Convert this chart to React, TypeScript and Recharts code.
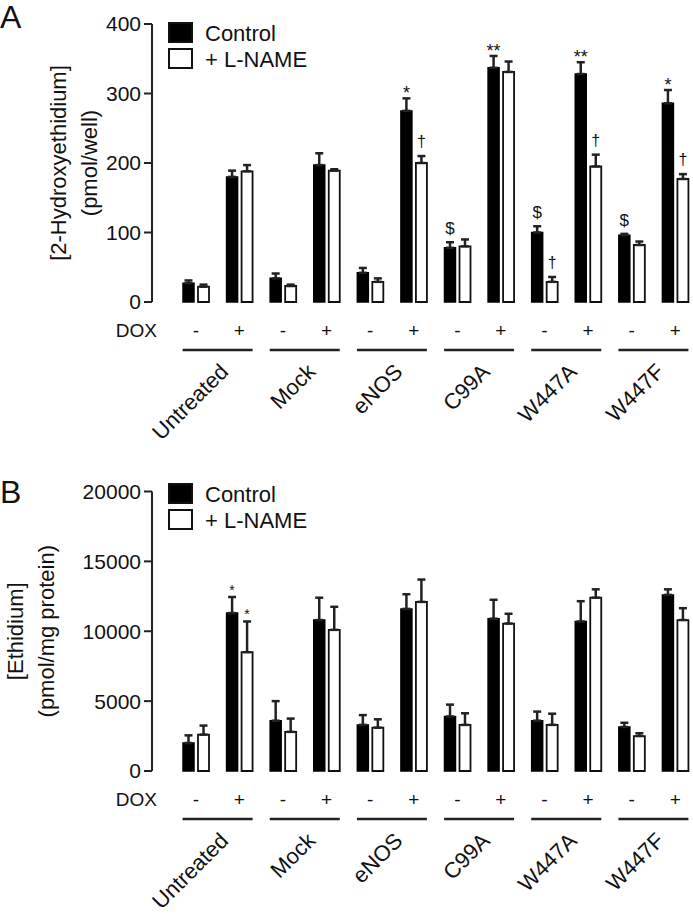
import React from "react";
import { BarChart, Bar, XAxis, YAxis, ErrorBar, LabelList, Legend, Label } from "recharts";

const FONT = "'Liberation Sans', Arial, Helvetica, sans-serif";
const INK = "#111";

const groups = ["Untreated", "Mock", "eNOS", "C99A", "W447A", "W447F"];
const doxLevels = ["-", "+"];
const seriesNames = ["Control", "+ L-NAME"];

// Panel A: 2-hydroxyethidium (pmol/well)
const ctrlA = [27, 180, 34, 197, 42, 275, 78, 337, 100, 328, 96, 286];
const ctrlAErr = [4, 9, 7, 17, 7, 18, 8, 17, 9, 17, 2, 19];
const lnameA = [22, 188, 23, 189, 29, 200, 80, 331, 29, 195, 82, 177];
const lnameAErr = [3, 9, 2, 2, 5, 10, 10, 15, 7, 17, 5, 7];
const ctrlANote = ["", "", "", "", "", "*", "$", "**", "$", "**", "$", "*"];
const lnameANote = ["", "", "", "", "", "†", "", "", "†", "†", "", "†"];
const yTicksA = [0, 100, 200, 300, 400];

// Panel B: ethidium (pmol/mg protein)
const ctrlB = [2000, 11300, 3600, 10800, 3300, 11600, 3900, 10900, 3600, 10700, 3150, 12600];
const ctrlBErr = [550, 1150, 1400, 1600, 700, 1050, 850, 1350, 650, 1450, 300, 400];
const lnameB = [2600, 8500, 2800, 10100, 3100, 12100, 3300, 10550, 3300, 12400, 2500, 10800];
const lnameBErr = [650, 2200, 950, 1650, 600, 1600, 830, 700, 800, 600, 200, 850];
const ctrlBNote = ["", "*", "", "", "", "", "", "", "", "", "", ""];
const lnameBNote = ["", "*", "", "", "", "", "", "", "", "", "", ""];
const yTicksB = [0, 5000, 10000, 15000, 20000];

function buildRows(ctrl, ctrlErr, lname, lnameErr, ctrlNote, lnameNote) {
  return groups.flatMap((g, gi) =>
    doxLevels.map((d, di) => {
      const i = gi * 2 + di;
      return {
        key: g + d,
        group: g,
        dox: d,
        ctrl: ctrl[i],
        ctrlErr: [0, ctrlErr[i]],
        ctrlNote: ctrlNote[i],
        lname: lname[i],
        lnameErr: [0, lnameErr[i]],
        lnameNote: lnameNote[i],
      };
    })
  );
}

const rowsA = buildRows(ctrlA, ctrlAErr, lnameA, lnameAErr, ctrlANote, lnameANote);
const rowsB = buildRows(ctrlB, ctrlBErr, lnameB, lnameBErr, ctrlBNote, lnameBNote);

const CHART_W = 697;
const AXIS_W = 152;
const DOX_H = 40;

function noteStyle(sym: string, small: boolean) {
  if (sym.includes("*")) return small ? { size: 14, dy: 2 } : { size: 18, dy: -1 };
  if (sym === "†") return { size: 16, dy: 9 };
  return { size: 17, dy: 8 };
}

const makeNote = (errs: number[], yMax: number, plotH: number, small: boolean) => (props: any) => {
  const { x, y, width, value, index } = props;
  if (!value) return null;
  const top = Number(y) - (errs[index] * plotH) / yMax;
  const s = noteStyle(String(value), small);
  return (
    <text
      x={Number(x) + Number(width) / 2}
      y={top - s.dy}
      textAnchor="middle"
      fontSize={s.size}
      fontFamily={FONT}
      fill={INK}
    >
      {value}
    </text>
  );
};

const DoxTick = (props: any) => {
  const { x, y, payload } = props;
  const sign = String(payload.value).slice(-1);
  return (
    <text x={x} y={y + 28} textAnchor="middle" dominantBaseline="central" fontSize={19} fontFamily={FONT} fill={INK}>
      {sign}
    </text>
  );
};

const GroupTick = (props: any) => {
  const { x, y, payload } = props;
  const ax = x + 12;
  const ay = y + 31;
  return (
    <g>
      <line x1={x - 35} x2={x + 35} y1={y + 8} y2={y + 8} stroke="#222" strokeWidth={2.5} />
      <text x={ax} y={ay} transform={`rotate(-45 ${ax} ${ay})`} textAnchor="end" fontSize={22} fontFamily={FONT} fill={INK}>
        {payload.value}
      </text>
    </g>
  );
};

const renderLegend = (props: any) => {
  const payload = [...(props.payload || [])].sort(
    (a: any, b: any) => seriesNames.indexOf(a.value) - seriesNames.indexOf(b.value)
  );
  return (
    <svg width={170} height={52} style={{ display: "block" }}>
      {payload.map((e: any, i: number) => (
        <g key={i} transform={`translate(0, ${i * 26})`}>
          <rect x={1} y={1} width={23} height={19} fill={e.color} stroke={INK} strokeWidth={2} />
          <text x={37} y={19} fontSize={22} fontFamily={FONT} fill={INK}>
            {e.value}
          </text>
        </g>
      ))}
    </svg>
  );
};

function Panel({ rows, yMax, yTicks, height, top, groupH, labelLines, labelX, legendTop, small, ctrlErr, lnameErr }) {
  const plotH = height - top - DOX_H - groupH;
  const pad = { left: 22, right: 0 };
  return (
    <BarChart
      width={CHART_W}
      height={height}
      data={rows}
      margin={{ top, right: 0, left: 0, bottom: 0 }}
      barGap={4}
    >
      <YAxis
        width={AXIS_W}
        domain={[0, yMax]}
        ticks={yTicks}
        interval={0}
        tickSize={8}
        tickMargin={3}
        axisLine={{ stroke: "#222", strokeWidth: 2 }}
        tickLine={{ stroke: "#222", strokeWidth: 2 }}
        tick={{ fontSize: 21, fill: INK, fontFamily: FONT }}
      >
        <Label
          content={(p: any) => {
            const vb = p.viewBox || {};
            const cy = vb.y + vb.height / 2;
            return (
              <g>
                {labelLines.map((t: string, i: number) => (
                  <text
                    key={i}
                    x={labelX[i]}
                    y={cy}
                    transform={`rotate(-90 ${labelX[i]} ${cy})`}
                    textAnchor="middle"
                    dominantBaseline="central"
                    fontSize={22}
                    fontFamily={FONT}
                    fill={INK}
                  >
                    {t}
                  </text>
                ))}
              </g>
            );
          }}
        />
      </YAxis>
      <XAxis
        dataKey="key"
        height={DOX_H}
        padding={pad}
        interval={0}
        axisLine={false}
        tickLine={false}
        tickSize={0}
        tickMargin={0}
        tick={<DoxTick />}
      >
        <Label
          content={(p: any) => {
            const vb = p.viewBox || {};
            return (
              <text x={vb.x + 5} y={vb.y + 28} textAnchor="end" dominantBaseline="central" fontSize={19} fontFamily={FONT} fill={INK}>
                DOX
              </text>
            );
          }}
        />
      </XAxis>
      <XAxis
        xAxisId="grp"
        dataKey="group"
        allowDuplicatedCategory={false}
        height={groupH}
        padding={pad}
        interval={0}
        axisLine={false}
        tickLine={false}
        tickSize={0}
        tickMargin={0}
        tick={<GroupTick />}
      />
      <Legend
        layout="vertical"
        align="center"
        verticalAlign="middle"
        wrapperStyle={{ left: 168, top: legendTop, width: 170, height: 52 }}
        content={renderLegend}
      />
      <Bar dataKey="ctrl" name={seriesNames[0]} fill="#000" stroke="#000" strokeWidth={1.5} barSize={11} isAnimationActive={false}>
        <ErrorBar dataKey="ctrlErr" width={4} strokeWidth={2.5} stroke="#222" isAnimationActive={false} />
        <LabelList dataKey="ctrlNote" content={makeNote(ctrlErr, yMax, plotH, small)} />
      </Bar>
      <Bar dataKey="lname" name={seriesNames[1]} fill="#fff" stroke={INK} strokeWidth={1.8} barSize={11} isAnimationActive={false}>
        <ErrorBar dataKey="lnameErr" width={4} strokeWidth={2.5} stroke="#222" isAnimationActive={false} />
        <LabelList dataKey="lnameNote" content={makeNote(lnameErr, yMax, plotH, small)} />
      </Bar>
    </BarChart>
  );
}

export default function App() {
  return (
    <div style={{ position: "absolute", left: 0, top: 0, width: 693, height: 914, overflow: "hidden", background: "#fff" }}>
      <div style={{ position: "absolute", left: 0, top: 0 }}>
        <Panel
          rows={rowsA}
          yMax={400}
          yTicks={yTicksA}
          height={460}
          top={24}
          groupH={118}
          labelLines={["[2-Hydroxyethidium]", "(pmol/well)"]}
          labelX={[58, 89]}
          legendTop={22}
          small={false}
          ctrlErr={ctrlAErr}
          lnameErr={lnameAErr}
        />
      </div>
      <div style={{ position: "absolute", left: 0, top: 460 }}>
        <Panel
          rows={rowsB}
          yMax={20000}
          yTicks={yTicksB}
          height={454}
          top={31.5}
          groupH={103}
          labelLines={["[Ethidium]", "(pmol/mg protein)"]}
          labelX={[15, 46]}
          legendTop={23}
          small={true}
          ctrlErr={ctrlBErr}
          lnameErr={lnameBErr}
        />
      </div>
      <svg width={693} height={914} style={{ position: "absolute", left: 0, top: 0, pointerEvents: "none" }}>
        <text x={0} y={28} fontSize={32} fontFamily={FONT} fill={INK}>A</text>
        <text x={0} y={503} fontSize={32} fontFamily={FONT} fill={INK}>B</text>
      </svg>
    </div>
  );
}
